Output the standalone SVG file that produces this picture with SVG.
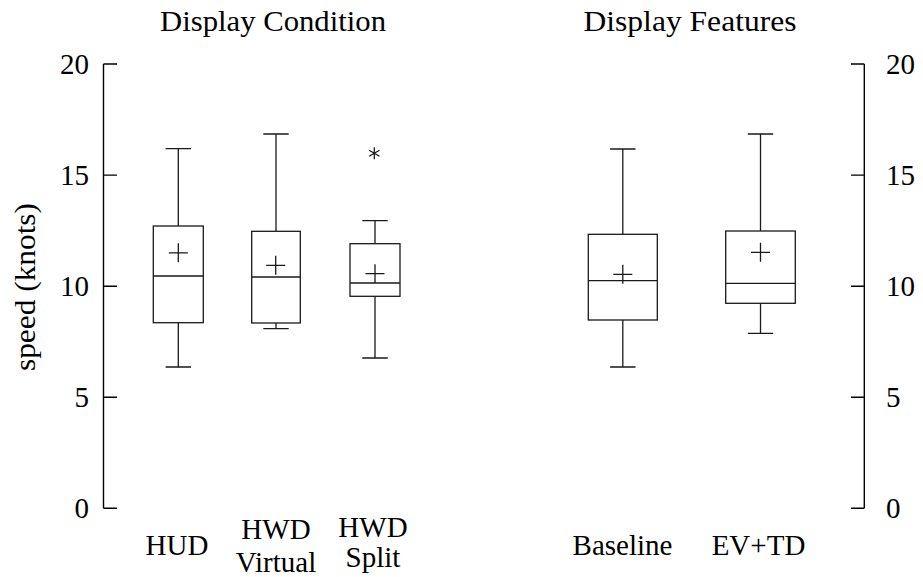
<svg xmlns="http://www.w3.org/2000/svg" width="923" height="577" viewBox="0 0 923 577">
<style>
  .ln{stroke:#1a1a1a;stroke-width:1.3;fill:none}
  .ax{stroke:#000;stroke-width:1.4;fill:none}
  .box{stroke:#1a1a1a;stroke-width:1.3;fill:#fff}
  .l{text-anchor:end}
  .m{text-anchor:middle}
</style>
<rect width="923" height="577" fill="#fff"/>
<g font-family="Liberation Serif, DejaVu Serif, serif" font-size="29" fill="#000">
<g id="titles">
  <text class="m" x="273" y="31" textLength="226" lengthAdjust="spacingAndGlyphs">Display Condition</text>
  <text class="m" x="690" y="31" textLength="213" lengthAdjust="spacingAndGlyphs">Display Features</text>
</g>
<g id="left-axis">
  <path class="ax" d="M103.5,64V508.3M103.5,64H117M103.5,175.1H117M103.5,286.2H117M103.5,397.2H117M103.5,508.3H117"/>
  <text class="l" x="89" y="73.5">20</text>
  <text class="l" x="89" y="184.5">15</text>
  <text class="l" x="89" y="295.5">10</text>
  <text class="l" x="89" y="406.5">5</text>
  <text class="l" x="89" y="517.5">0</text>
  <text class="m" transform="translate(35,287) rotate(-90)" textLength="168" lengthAdjust="spacingAndGlyphs">speed (knots)</text>
</g>
<g id="right-axis">
  <path class="ax" d="M864.3,64V508.3M851,64H864.3M851,175.1H864.3M851,286.2H864.3M851,397.2H864.3M851,508.3H864.3"/>
  <text x="886" y="73.5">20</text>
  <text x="886" y="184.5">15</text>
  <text x="886" y="295.5">10</text>
  <text x="886" y="406.5">5</text>
  <text x="886" y="517.5">0</text>
</g>
<g id="box-hud">
  <path class="ln" d="M178.3,148.7V226M165.6,148.7H191M178.3,322.7V367M165.6,367H191"/>
  <rect class="box" x="153.3" y="226" width="50" height="96.7"/>
  <path class="ln" d="M153.3,276H203.3M168.8,252.8H187.8M178.3,243.3V262.3"/>
  <text class="m" x="177" y="555">HUD</text>
</g>
<g id="box-hwd-virtual">
  <path class="ln" d="M276,134V231.3M263.3,134H288.7M276,323V328.7M263.3,328.7H288.7"/>
  <rect class="box" x="251.7" y="231.3" width="48.6" height="91.7"/>
  <path class="ln" d="M251.7,277H300.3M266.2,265.3H285.2M275.7,255.8V274.8"/>
  <text class="m" x="276" y="539">HWD</text>
  <text class="m" x="276" y="571.5">Virtual</text>
</g>
<g id="box-hwd-split">
  <path class="ln" d="M375,220.7V243.7M362.3,220.7H387.7M375,296.3V358M362.3,358H387.7"/>
  <rect class="box" x="350" y="243.7" width="50" height="52.6"/>
  <path class="ln" d="M350,283H400M365.5,273.7H384.5M375,264.2V283.2"/>
  <path class="ln" d="M374.3,147.3V159.3M369.1,150.3L379.5,156.3M369.1,156.3L379.5,150.3"/>
  <text class="m" x="373" y="537">HWD</text>
  <text class="m" x="373" y="567">Split</text>
</g>
<g id="box-baseline">
  <path class="ln" d="M622.8,149V234.3M610.1,149H635.5M622.8,320V367M610.1,367H635.5"/>
  <rect class="box" x="588.3" y="234.3" width="69" height="85.7"/>
  <path class="ln" d="M588.3,280.7H657.3M613.3,274.3H632.3M622.8,264.8V283.8"/>
  <text class="m" x="622.5" y="555">Baseline</text>
</g>
<g id="box-evtd">
  <path class="ln" d="M760.5,134V231M747.8,134H773.2M760.5,303.3V333.3M747.8,333.3H773.2"/>
  <rect class="box" x="725.7" y="231" width="69.6" height="72.3"/>
  <path class="ln" d="M725.7,283.3H795.3M751,252.3H770M760.5,242.8V261.8"/>
  <text class="m" x="758.5" y="555">EV+TD</text>
</g>
</g>
<g id="connectors"/>
</svg>
